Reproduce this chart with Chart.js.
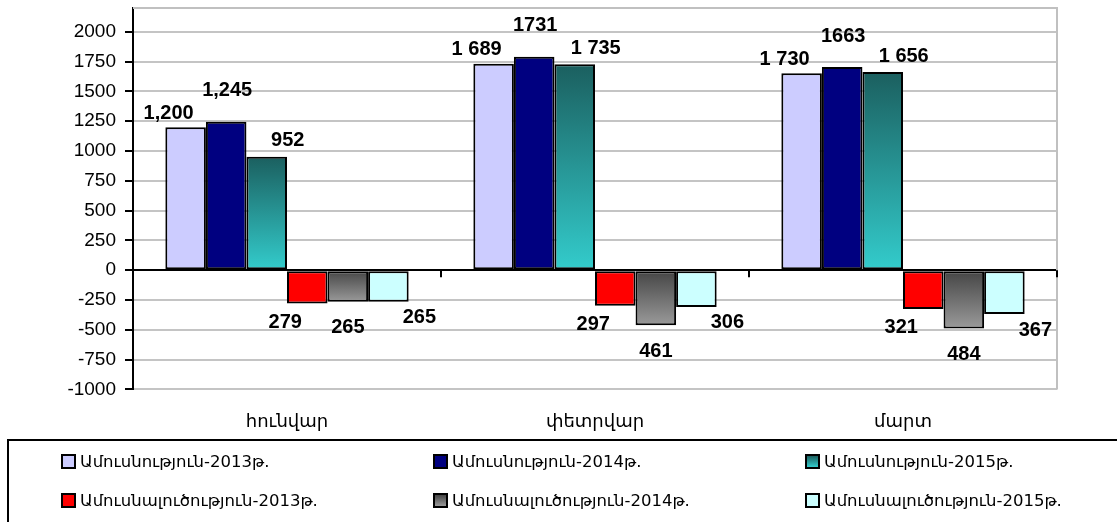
<!DOCTYPE html>
<html>
<head>
<meta charset="utf-8">
<script src="https://cdn.jsdelivr.net/npm/chart.js@4.4.1/dist/chart.umd.min.js"></script>
<style>
  html, body { margin: 0; padding: 0; background: #fff; }
  #wrap { position: relative; width: 1117px; height: 522px; overflow: hidden; }
  #legend {
    position: absolute; left: 7px; top: 439px; width: 1200px; height: 200px;
    border: 2px solid #000; box-sizing: border-box;
    font-family: "DejaVu Sans", "Liberation Sans", sans-serif; font-size: 16.5px; color: #000;
  }
  .item { position: absolute; display: flex; align-items: center; white-space: nowrap; }
  .sw { width: 11px; height: 11px; border: 2px solid #000; margin-right: 4px; }
</style>
</head>
<body>
<div id="wrap">
  <canvas id="chart" width="1117" height="522"></canvas>
  <div id="legend"></div>
</div>
<script>
// months
const categories = ['հունվար', 'փետրվար', 'մարտ'];

// series names
const seriesNames = [
  'Ամուսնություն-2013թ.',
  'Ամուսնություն-2014թ.',
  'Ամուսնություն-2015թ.',
  'Ամուսնալուծություն-2013թ.',
  'Ամուսնալուծություն-2014թ.',
  'Ամուսնալուծություն-2015թ.'
];

// bar heights
const marriage2013 = [1200, 1733, 1652];
const marriage2014 = [1245, 1792, 1705];
const marriage2015 = [952, 1728, 1663];
const divorce2013 = [-279, -299, -325];
const divorce2014 = [-265, -462, -488];
const divorce2015 = [-265, -308, -368];

// the value labels as printed on the chart
const marriage2013Labels = ['1,200', '1 689', '1 730'];
const marriage2014Labels = ['1,245', '1731', '1663'];
const marriage2015Labels = ['952', '1 735', '1 656'];
const divorce2013Labels = ['279', '297', '321'];
const divorce2014Labels = ['265', '461', '484'];
const divorce2015Labels = ['265', '306', '367'];

const yTicks = [-1000, -750, -500, -250, 0, 250, 500, 750, 1000, 1250, 1500, 1750, 2000];

const seriesValues = [marriage2013, marriage2014, marriage2015, divorce2013, divorce2014, divorce2015];
const seriesLabels = [marriage2013Labels, marriage2014Labels, marriage2015Labels,
                      divorce2013Labels, divorce2014Labels, divorce2015Labels];

// colours; gradients are [top, bottom]
const fills = ['#CCCCFF', '#000080', ['#1b5f5f', '#33CCCC'], '#FF0000', ['#444444', '#9a9a9a'], '#CCFFFF'];

// where each series label sits, relative to the bar end
const labelOffsets = [
  { dx: -17, dy: -14 }, { dx: 1, dy: -31 }, { dx: 21, dy: -16 },
  { dx: -22, dy: 19 }, { dx: 0, dy: 26 }, { dx: 31, dy: 16 }
];

const numFont = '"Liberation Sans", Arial, sans-serif';
const armFont = '"DejaVu Sans", "Liberation Sans", sans-serif';

function barFill(i) {
  const f = fills[i];
  if (typeof f === 'string') return f;
  return (ctx) => {
    if (ctx.type !== 'data') return f[1];
    const y = ctx.chart.scales.y;
    if (!y) return f[1];
    const v = ctx.parsed.y;
    const top = y.getPixelForValue(Math.max(v, 0));
    const bot = y.getPixelForValue(Math.min(v, 0));
    if (!isFinite(top) || !isFinite(bot) || top === bot) return f[1];
    const g = ctx.chart.ctx.createLinearGradient(0, top, 0, bot);
    g.addColorStop(0, f[0]);
    g.addColorStop(1, f[1]);
    return g;
  };
}

const datasets = seriesValues.map((vals, i) => ({
  label: seriesNames[i],
  data: vals,
  backgroundColor: barFill(i),
  borderColor: '#000',
  borderWidth: 2,
  borderSkipped: false,
  barPercentage: 1,
  categoryPercentage: 0.79
}));

// frame, zero-line ticks and value labels
const extras = {
  id: 'extras',
  beforeDatasetsDraw(chart) {
    const { ctx, chartArea: a } = chart;
    ctx.save();
    ctx.strokeStyle = '#c0c0c0';
    ctx.lineWidth = 2;
    ctx.beginPath();
    ctx.moveTo(a.left, a.top);
    ctx.lineTo(a.right, a.top);
    ctx.lineTo(a.right, a.bottom);
    ctx.stroke();
    // tick marks on the zero line between months
    const y0 = chart.scales.y.getPixelForValue(0);
    const step = (a.right - a.left) / categories.length;
    ctx.strokeStyle = '#000';
    ctx.beginPath();
    for (let k = 1; k <= categories.length; k++) {
      const px = a.left + step * k;
      ctx.moveTo(px, y0);
      ctx.lineTo(px, y0 + 7);
    }
    ctx.stroke();
    ctx.restore();
  },
  afterDatasetsDraw(chart) {
    const ctx = chart.ctx;
    ctx.save();
    ctx.font = 'bold 20px ' + numFont;
    ctx.fillStyle = '#000';
    ctx.textAlign = 'center';
    ctx.textBaseline = 'middle';
    chart.data.datasets.forEach((ds, i) => {
      const meta = chart.getDatasetMeta(i);
      meta.data.forEach((bar, j) => {
        const o = labelOffsets[i];
        ctx.fillText(seriesLabels[i][j], bar.x + o.dx, bar.y + o.dy);
      });
    });
    ctx.restore();
  }
};

new Chart(document.getElementById('chart'), {
  type: 'bar',
  data: { labels: categories, datasets: datasets },
  options: {
    responsive: false,
    animation: false,
    events: [],
    layout: { padding: { top: 8, right: 60, bottom: 67, left: 0 } },
    plugins: { legend: { display: false }, tooltip: { enabled: false } },
    scales: {
      x: {
        grid: { display: false, drawTicks: false },
        border: { display: false },
        ticks: { color: '#000', padding: 22, font: { family: armFont, size: 18 } }
      },
      y: {
        min: -1000,
        max: 2200,
        afterFit(scale) {
          scale.width = 133;
          scale.paddingTop = 0;
          scale.paddingBottom = 0;
        },
        afterBuildTicks(scale) {
          scale.ticks = yTicks.map(v => ({ value: v }));
        },
        grid: {
          color: (c) => (c.tick && c.tick.value === 0 ? '#000' : '#c4c4c4'),
          lineWidth: 2,
          tickColor: '#000',
          tickLength: 8
        },
        border: { color: '#000', width: 2 },
        ticks: {
          color: '#000', padding: 9, font: { family: numFont, size: 19 },
          callback: (v) => String(v)
        }
      }
    }
  },
  plugins: [extras]
});

// legend: three columns, two rows
const legendCols = [61, 433, 805];
const legendRows = [461, 500];
const legend = document.getElementById('legend');
seriesNames.forEach((name, i) => {
  const col = i % 3, row = Math.floor(i / 3);
  const el = document.createElement('div');
  el.className = 'item';
  el.style.left = (legendCols[col] - 9) + 'px';
  el.style.top = (legendRows[row] - 441 - 10) + 'px';
  el.style.height = '20px';
  const sw = document.createElement('span');
  sw.className = 'sw';
  const f = fills[i];
  sw.style.background = typeof f === 'string' ? f : 'linear-gradient(' + f[0] + ',' + f[1] + ')';
  const t = document.createElement('span');
  t.textContent = name;
  el.appendChild(sw);
  el.appendChild(t);
  legend.appendChild(el);
});
</script>
</body>
</html>
